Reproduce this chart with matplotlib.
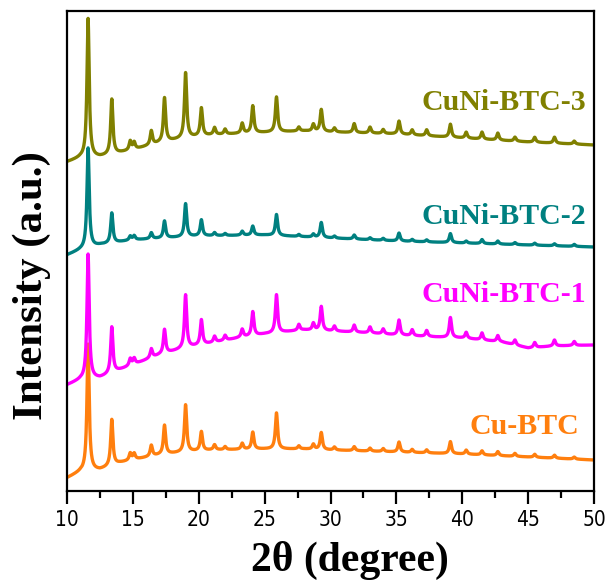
import matplotlib
matplotlib.use("Agg")
import matplotlib.pyplot as plt
import numpy as np

# peak positions (2theta) shared by all samples
PEAK_POS = [11.6, 13.4, 14.8, 15.1, 16.4, 17.4, 19.0, 20.2, 21.2, 22.0, 23.3,
            24.1, 25.9, 27.6, 28.7, 29.3, 30.3, 31.8, 33.0, 34.0, 35.2, 36.2,
            37.3, 39.1, 40.3, 41.5, 42.7, 44.0, 45.5, 47.0, 48.5]

# baseline anchors (2theta, intensity) and peak heights above baseline
CU_BASE_X = [10, 11, 12.5, 14, 15, 17, 19, 21, 25, 28, 30, 35, 40, 45, 50]
CU_BASE_Y = [13, 19, 21, 28, 31, 36, 39, 41, 42, 42, 41, 39, 37, 34, 31]
CU_PEAKS = [127, 46, 7, 6, 11, 29, 47, 19, 5, 3, 6,
            17, 36, 3, 5, 17, 3, 4, 3, 3, 10, 3,
            3, 12, 4, 4, 4, 3, 3, 3, 2]

NI1_BASE_X = [10, 11, 12.5, 14, 15, 17, 19, 21, 23, 25, 28, 30, 33, 35, 38, 40, 43, 45, 47, 50]
NI1_BASE_Y = [106, 111, 113, 121, 126, 136, 143, 148, 153, 157, 161, 160, 158, 156, 154, 153, 149, 143, 145, 146]
NI1_PEAKS = [125, 46, 7, 6, 9, 24, 53, 25, 6, 5, 8,
             24, 38, 6, 7, 24, 5, 7, 6, 5, 15, 6,
             6, 20, 6, 7, 6, 5, 5, 6, 4]

NI2_BASE_X = [10, 11, 12.5, 15, 20, 25, 30, 35, 40, 45, 50]
NI2_BASE_Y = [236, 241, 246, 251, 255, 256, 253, 250, 248, 246, 244]
NI2_PEAKS = [100, 30, 4, 4, 6, 17, 33, 16, 3, 2, 4,
             9, 21, 2, 3, 15, 2, 4, 2, 2, 8, 2,
             2, 9, 2, 4, 3, 2, 2, 2, 2]

NI3_BASE_X = [10, 11, 12.5, 15, 17, 19, 21, 24, 28, 30, 35, 40, 45, 50]
NI3_BASE_Y = [329, 333, 334, 341, 348, 353, 356, 358, 360, 359, 357, 353, 349, 346]
NI3_PEAKS = [139, 55, 9, 7, 14, 44, 65, 28, 7, 5, 10,
             27, 35, 4, 7, 22, 4, 9, 6, 4, 13, 5,
             6, 13, 6, 7, 7, 4, 5, 6, 3]

LABELS = ["Cu-BTC", "CuNi-BTC-1", "CuNi-BTC-2", "CuNi-BTC-3"]
COLORS = ["#ff7f0e", "#ff00ff", "#008080", "#808000"]
LABEL_Y = [64, 196, 274, 388]
LABEL_X = [48.9, 49.4, 49.4, 49.4]

SERIES = [
    (CU_BASE_X, CU_BASE_Y, CU_PEAKS),
    (NI1_BASE_X, NI1_BASE_Y, NI1_PEAKS),
    (NI2_BASE_X, NI2_BASE_Y, NI2_PEAKS),
    (NI3_BASE_X, NI3_BASE_Y, NI3_PEAKS),
]


def pattern(x, base_x, base_y, peaks, hwhm=0.1):
    y = np.interp(x, base_x, base_y)
    for pos, h in zip(PEAK_POS, peaks):
        y = y + h / (1 + ((x - pos) / hwhm) ** 2)
    return y


two_theta = np.linspace(10, 50, 4001)

fig = plt.figure(figsize=(6.09, 5.82), dpi=100)
ax = fig.add_axes([67 / 609, 1 - 491 / 582, 527 / 609, 480 / 582])

for (bx, by, pk), color in zip(SERIES, COLORS):
    ax.plot(two_theta, pattern(two_theta, bx, by, pk), color=color, lw=2.4)

for label, color, lx, ly in zip(LABELS, COLORS, LABEL_X, LABEL_Y):
    ax.text(lx, ly, label, color=color, ha="right", va="center",
            family="Liberation Serif", fontweight="bold", fontsize=21.5)

ax.set_xlim(10, 50)
ax.set_ylim(0, 480)
ax.set_xticks(np.arange(10, 51, 5))
ax.set_xticks(np.arange(12.5, 50, 5), minor=True)
ax.set_yticks([])
ax.tick_params(axis="x", which="major", direction="out", length=9.5, width=1.6,
               labelsize=15, pad=4)
ax.tick_params(axis="x", which="minor", direction="out", length=5, width=1.6)
for lbl in ax.get_xticklabels():
    lbl.set_family("DejaVu Sans")
    lbl.set_fontstretch("condensed")
for sp in ax.spines.values():
    sp.set_linewidth(1.6)

fig.text(350 / 609, 1 - 560 / 582, "2θ (degree)", family="Liberation Serif",
         fontweight="bold", fontsize=30, ha="center", va="center")
fig.text(32 / 609, 1 - 286 / 582, "Intensity (a.u.)", rotation=90,
         family="Liberation Serif", fontweight="bold", fontsize=31,
         ha="center", va="center")

fig.savefig("out.png", dpi=100)
